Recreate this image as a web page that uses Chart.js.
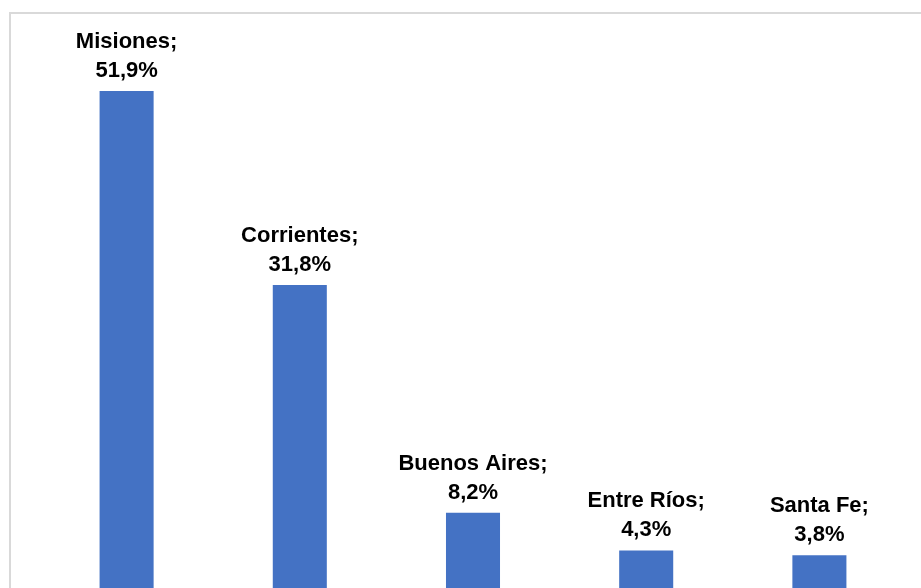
<!DOCTYPE html>
<html>
<head>
<meta charset="utf-8">
<script src="https://cdn.jsdelivr.net/npm/chart.js@4"></script>
<style>
  html, body { margin: 0; padding: 0; overflow: hidden; background: #fff; }
  #frame {
    position: absolute; left: 9px; top: 12px;
    width: 920px; height: 620px;
    border: 2px solid #d9d9d9; box-sizing: border-box;
  }
  #wrap { position: absolute; left: 0; top: 0; width: 921px; height: 600px; }
</style>
</head>
<body>
<div id="frame"></div>
<div id="wrap"><canvas id="chart" width="921" height="600"></canvas></div>
<script>
const provinces = ["Misiones", "Corrientes", "Buenos Aires", "Entre Ríos", "Santa Fe"];
const shares = [51.9, 31.8, 8.2, 4.3, 3.8];

// labels "Name;" over "value%" above each bar
const barLabels = {
  id: "barLabels",
  afterDatasetsDraw(chart) {
    const ctx = chart.ctx;
    const meta = chart.getDatasetMeta(0);
    ctx.save();
    ctx.fillStyle = "#000";
    ctx.font = "bold 22px 'Liberation Sans', Arial, sans-serif";
    ctx.textAlign = "center";
    ctx.textBaseline = "alphabetic";
    meta.data.forEach((bar, i) => {
      const val = shares[i].toFixed(1).replace(".", ",") + "%";
      ctx.fillText(val, bar.x, bar.y - 14);
      ctx.fillText(provinces[i] + ";", bar.x, bar.y - 43);
    });
    ctx.restore();
  }
};

new Chart(document.getElementById("chart"), {
  type: "bar",
  data: {
    labels: provinces,
    datasets: [{
      data: shares,
      backgroundColor: "#4472C4",
      borderWidth: 0,
      categoryPercentage: 1,
      barPercentage: 0.312
    }]
  },
  options: {
    responsive: false,
    animation: false,
    layout: { padding: { left: 40, right: 15, top: 61, bottom: 8 } },
    plugins: { legend: { display: false }, tooltip: { enabled: false } },
    scales: {
      x: { display: false },
      y: { display: false, min: 0, max: 55 }
    }
  },
  plugins: [barLabels]
});
</script>
</body>
</html>
